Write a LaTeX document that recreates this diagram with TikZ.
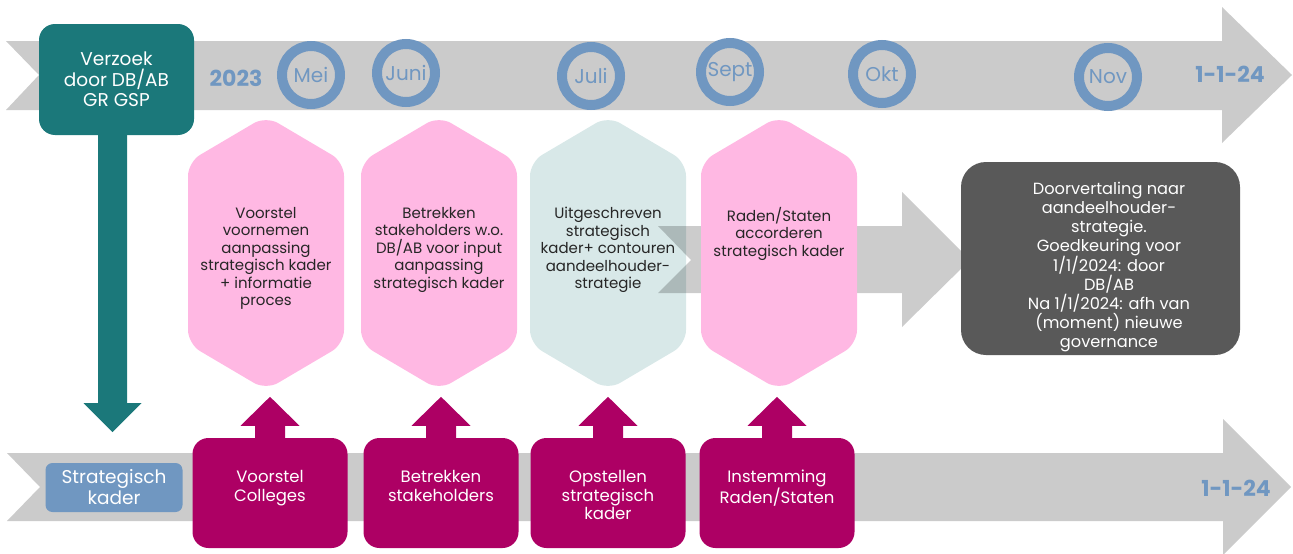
\documentclass[tikz,border=0pt]{standalone}
\usepackage{fontspec}
\setmainfont{Poppins}
\usetikzlibrary{positioning,calc}

\definecolor{bandgray}{HTML}{CBCBCB}
\definecolor{gspblue}{HTML}{7097C1}
\definecolor{gspteal}{HTML}{1B787A}
\definecolor{gspmagenta}{HTML}{AD0064}
\definecolor{hexpink}{HTML}{FFB8E3}
\definecolor{hexmint}{HTML}{D8E8E8}
\definecolor{gspdark}{HTML}{595959}

\tikzstyle{band}=[fill=bandgray]
\tikzstyle{month}=[circle,draw=gspblue,line width=10pt,minimum size=58pt,inner sep=0pt,text=gspblue,font=\fontsize{20}{22}\selectfont]
\tikzstyle{yeartext}=[inner sep=0pt,text=gspblue,font=\fontsize{22}{24}\selectfont\bfseries]
\tikzstyle{startbox}=[rectangle,rounded corners=16pt,fill=gspteal,minimum width=155pt,minimum height=111pt,inner sep=0pt,align=center,text=white,font=\fontsize{18.5}{20.5}\selectfont]
\tikzstyle{kaderbox}=[rectangle,rounded corners=7pt,fill=gspblue,minimum width=137pt,minimum height=49pt,inner sep=0pt,align=center,text=white,font=\fontsize{18.5}{21}\selectfont]
\tikzstyle{hextext}=[anchor=north,align=center,inner sep=0pt,text=black!85,font=\fontsize{15}{17.5}\selectfont]
\tikzstyle{colbox}=[rectangle,rounded corners=16pt,fill=gspmagenta,minimum width=155pt,minimum height=110pt,inner sep=0pt]
\tikzstyle{coltext}=[align=center,inner sep=0pt,text=white,font=\fontsize{16.5}{18.8}\selectfont]
\tikzstyle{darkbox}=[rectangle,rounded corners=25pt,fill=gspdark,minimum width=279pt,minimum height=193pt,inner sep=0pt]
\tikzstyle{darktext}=[align=center,inner sep=0pt,text=white,font=\fontsize{16.2}{18.9}\selectfont]

\begin{document}
\begin{tikzpicture}[x=1pt,y=-1pt]
    \useasboundingbox (0,0) rectangle (1293,554);
    % tijdlijnen
    \fill[band] (6,41) -- (1222,41) -- (1222,7) -- (1292,75) -- (1222,143) -- (1222,110) -- (6,110) -- (39,75) -- cycle;
    \fill[band] (7,453) -- (1223,453) -- (1223,419) -- (1291,487) -- (1223,555) -- (1223,521) -- (7,521) -- (40,487) -- cycle;
    % maanden
    \node[yeartext] (y2023) at (236,78) {2023};
    \foreach \pos/\name in {{(311,75)/Mei}, {(406,73)/Juni}, {(591,76)/Juli}, {(730,72)/Sept}, {(882,74)/Okt}, {(1108,77)/Nov}}
        \node[month] (\name) at \pos {\name};
    \node[yeartext] (eindboven) at (1230,74) {1-1-24};
    \node[yeartext] (eindonder) at (1236,488) {1-1-24};
    % verzoek
    \node[startbox] (vz) at (116.5,79.5) {Verzoek\\door DB/AB\\GR GSP};
    \fill[gspteal, shift={($(vz.south)+(-4,0)$)}] (-14.5,-1) -- (-14.5,268) -- (-29,268) -- (0,297) -- (29,268) -- (14.5,268) -- (14.5,-1) -- cycle;
    \node[kaderbox] (sk) at (114,487.5) {Strategisch\\kader};
    % zeshoeken
    \foreach \cx/\hcol in {266/hexpink, 439/hexpink, 608/hexmint}
        \fill[\hcol, rounded corners=14pt] (\cx,116) -- (\cx+78,162) -- (\cx+78,344) -- (\cx,390) -- (\cx-78,344) -- (\cx-78,162) -- cycle;
    \fill[black, fill opacity=0.2] (658,226) -- (902,226) -- (902,192) -- (970,260) -- (902,327) -- (902,293) -- (658,293) -- (691,260) -- cycle;
    \fill[hexpink, rounded corners=14pt] (779,116) -- (857,162) -- (857,344) -- (779,390) -- (701,344) -- (701,162) -- cycle;
    \foreach \cx/\name/\txt in {266/h1/{Voorstel\\voornemen\\aanpassing\\strategisch kader\\+ informatie\\proces},
                                439/h2/{Betrekken\\stakeholders w.o.\\DB/AB voor input\\aanpassing\\strategisch kader},
                                608/h3/{Uitgeschreven\\strategisch\\kader+ contouren\\aandeelhouder-\\strategie},
                                779/h4/{Raden/Staten\\accorderen\\strategisch kader}}
        \node[hextext] (\name) at (\cx,207) {\txt};
    % aandeelhouderstrategie
    \node[darkbox] (db) at (1100.5,258.5) {};
    \node[darktext] (dbtekst) at (1109,267) {Doorvertaling naar\\aandeelhouder-\\strategie.\\Goedkeuring voor\\1/1/2024: door\\DB/AB\\Na 1/1/2024: afh van\\(moment) nieuwe\\governance};
    % stappen
    \foreach \cx/\name/\txt in {270/vc/{Voorstel\\Colleges}, 441/bs/{Betrekken\\stakeholders}, 608/os/{Opstellen\\strategisch\\kader}, 777/ir/{Instemming\\Raden/Staten}} {
        \node[colbox] (\name) at (\cx,493) {};
        \node[coltext, below=32pt of \name.north] (\name tekst) {\txt};
        \fill[gspmagenta, shift={(\name.north)}] (-15,1) -- (-15,-12) -- (-29.5,-12) -- (0,-41) -- (29.5,-12) -- (15,-12) -- (15,1) -- cycle;
    }
\end{tikzpicture}
\end{document}
